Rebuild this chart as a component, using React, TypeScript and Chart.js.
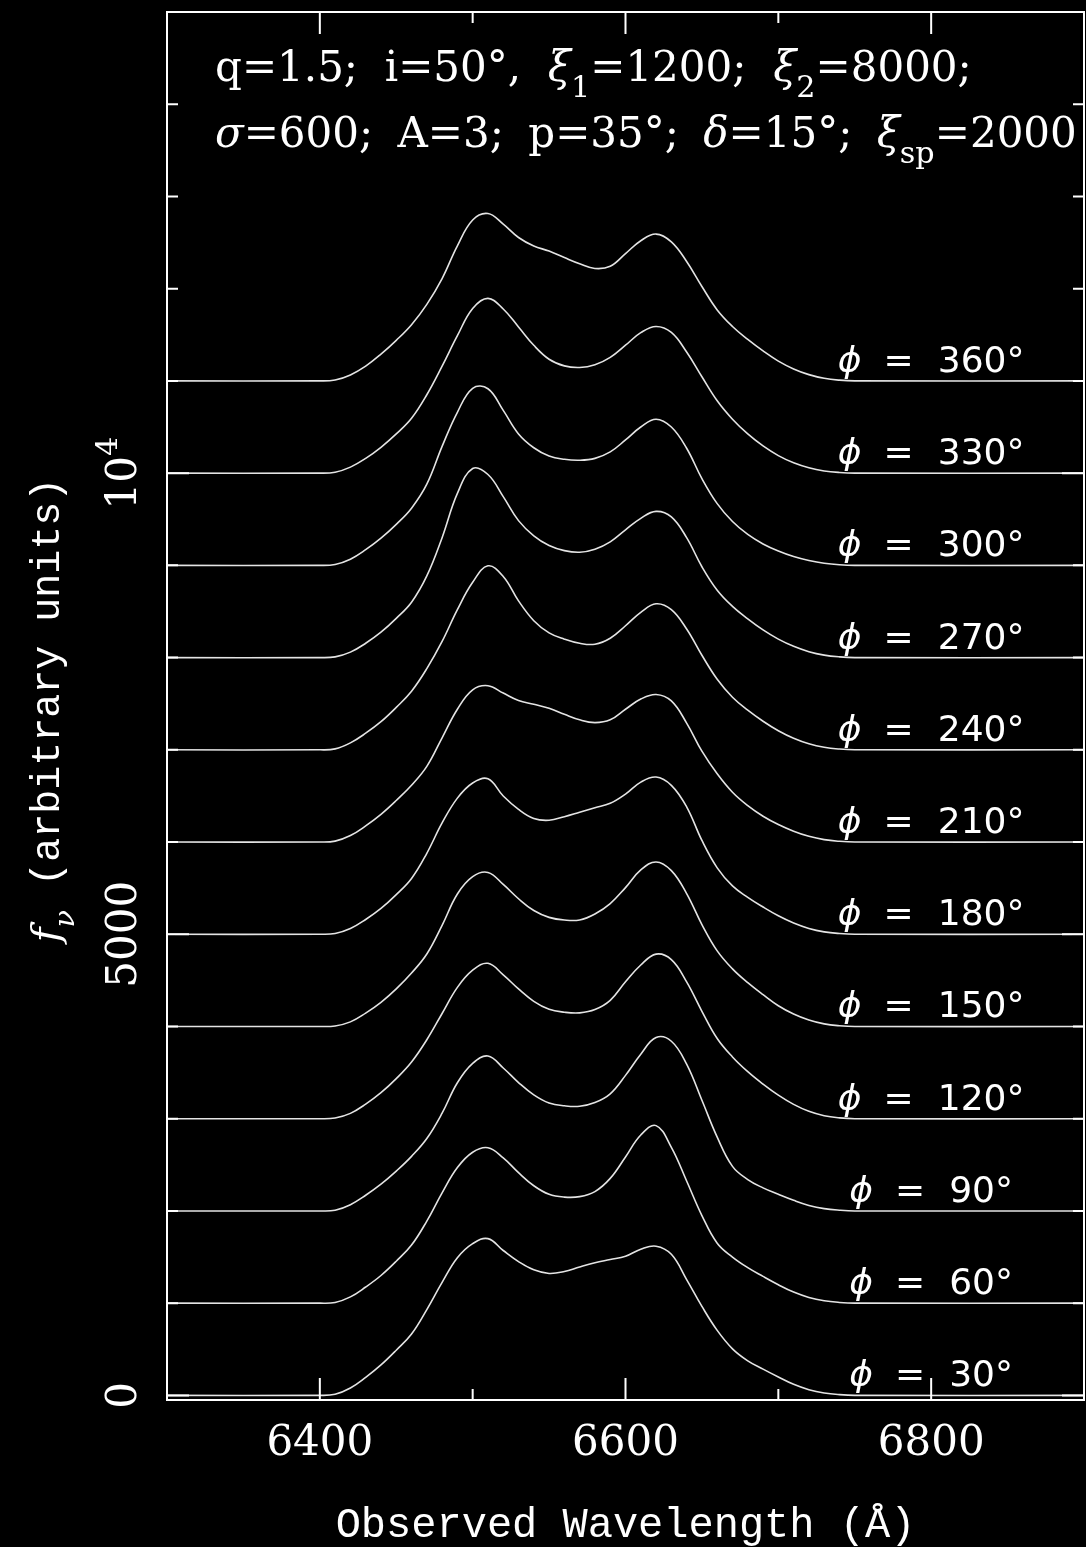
import { useEffect, useRef } from "react";
import { Chart, registerables } from "chart.js";

Chart.register(...registerables);

// Observed wavelength grid (Å) shared by every profile
const wavelength = [
  6300, 6400, 6410, 6420, 6430, 6440, 6450, 6460, 6470, 6480, 6490, 6500, 6510,
  6520, 6530, 6540, 6550, 6560, 6570, 6580, 6590, 6600, 6610, 6620, 6630, 6640,
  6650, 6660, 6670, 6680, 6690, 6700, 6710, 6720, 6730, 6740, 6750, 6900,
];

// Orbital phase of each profile (degrees) and its vertical offset in the stack
const phases = [30, 60, 90, 120, 150, 180, 210, 240, 270, 300, 330, 360];
const offsets = [0, 1000, 2000, 3000, 4000, 5000, 6000, 7000, 8000, 9000, 10000, 11000];

// Emission-line profiles above their own continuum (f_nu, arbitrary units)
const profile30 = [0, 0, 12, 80, 195, 330, 490, 665, 930, 1225, 1492, 1645, 1700, 1571, 1451, 1361, 1322, 1343, 1393, 1438, 1473, 1509, 1585, 1618, 1530, 1256, 965, 705, 505, 375, 285, 200, 120, 62, 26, 8, 0, 0];
const profile60 = [0, 0, 8, 68, 175, 300, 455, 630, 890, 1196, 1470, 1636, 1685, 1575, 1415, 1273, 1180, 1150, 1155, 1210, 1353, 1585, 1823, 1925, 1690, 1325, 950, 650, 500, 385, 290, 200, 120, 62, 26, 8, 0, 0];
const profile90 = [0, 0, 8, 68, 170, 290, 432, 592, 785, 1060, 1390, 1600, 1680, 1550, 1392, 1258, 1170, 1140, 1135, 1175, 1270, 1470, 1700, 1880, 1840, 1592, 1200, 800, 483, 340, 250, 180, 115, 60, 25, 8, 0, 0];
const profile120 = [0, 0, 8, 58, 158, 282, 435, 615, 856, 1141, 1424, 1610, 1685, 1560, 1407, 1273, 1186, 1155, 1148, 1183, 1283, 1485, 1667, 1785, 1725, 1484, 1165, 870, 670, 510, 375, 255, 155, 80, 32, 9, 0, 0];
const profile150 = [0, 0, 6, 50, 145, 262, 408, 580, 786, 1097, 1437, 1625, 1670, 1540, 1385, 1257, 1183, 1154, 1155, 1220, 1333, 1506, 1698, 1784, 1690, 1441, 1105, 820, 625, 475, 345, 225, 135, 70, 28, 8, 0, 0];
const profile180 = [0, 0, 8, 62, 160, 280, 430, 605, 878, 1207, 1476, 1640, 1685, 1499, 1354, 1255, 1236, 1275, 1323, 1372, 1420, 1520, 1650, 1705, 1615, 1382, 1017, 720, 524, 400, 295, 200, 122, 63, 26, 8, 0, 0];
const profile210 = [0, 0, 10, 70, 175, 300, 450, 615, 820, 1130, 1440, 1650, 1695, 1615, 1535, 1494, 1450, 1385, 1325, 1295, 1325, 1440, 1550, 1600, 1530, 1290, 985, 740, 540, 395, 280, 190, 118, 62, 26, 8, 0, 0];
const profile240 = [0, 0, 10, 75, 180, 305, 460, 635, 880, 1175, 1520, 1816, 1995, 1880, 1615, 1400, 1268, 1200, 1155, 1145, 1210, 1345, 1490, 1583, 1520, 1310, 1025, 765, 570, 430, 310, 207, 125, 65, 27, 8, 0, 0];
const profile270 = [0, 0, 8, 59, 155, 275, 425, 600, 885, 1300, 1780, 2050, 1985, 1745, 1485, 1320, 1215, 1160, 1142, 1175, 1255, 1385, 1510, 1585, 1525, 1300, 985, 730, 555, 420, 300, 200, 122, 64, 27, 8, 0, 0];
const profile300 = [0, 0, 10, 67, 170, 295, 445, 620, 880, 1290, 1660, 1920, 1915, 1680, 1425, 1275, 1185, 1150, 1140, 1160, 1230, 1360, 1500, 1585, 1500, 1270, 940, 669, 475, 335, 232, 155, 95, 52, 22, 6, 0, 0];
const profile330 = [0, 0, 10, 65, 160, 280, 425, 595, 850, 1160, 1490, 1785, 1895, 1780, 1585, 1386, 1235, 1163, 1145, 1175, 1255, 1387, 1523, 1590, 1525, 1313, 1045, 785, 585, 425, 295, 190, 112, 58, 24, 7, 0, 0];
const profile360 = [0, 0, 10, 65, 160, 290, 440, 610, 830, 1110, 1465, 1745, 1815, 1700, 1555, 1463, 1408, 1337, 1270, 1219, 1243, 1380, 1520, 1592, 1508, 1295, 1024, 770, 590, 450, 325, 215, 130, 68, 28, 8, 0, 0];

const profiles = [
  profile30, profile60, profile90, profile120, profile150, profile180,
  profile210, profile240, profile270, profile300, profile330, profile360,
];

// Axis limits and ticks
const X_MIN = 6300;
const X_MAX = 6900;
const Y_MIN = -50;
const Y_MAX = 15000;
const xTicks = [6300, 6400, 6500, 6600, 6700, 6800, 6900];
const xMajorTicks = [6400, 6600, 6800];
const xTickLabels = ["6400", "6600", "6800"];
const yTicks = [0, 1000, 2000, 3000, 4000, 5000, 6000, 7000, 8000, 9000, 10000, 11000, 12000, 13000, 14000, 15000];
const yMajorTicks = [0, 5000, 10000];
const yTickLabels = ["0", "5000", "10^4"];
const LABEL_WAVELENGTH = 6800;

const SERIF = '"DejaVu Serif", "Liberation Serif", serif';
const SANS = '"DejaVu Sans", "Liberation Sans", sans-serif';
const MONO = '"Liberation Mono", "DejaVu Sans Mono", monospace';

type Run = { t: string; it?: boolean; sub?: boolean; sup?: boolean; family?: string; dx?: number };

function runFont(r: Run, size: number, family: string) {
  const fs = r.sub || r.sup ? size * 0.72 : size;
  return `${r.it ? "italic " : ""}${fs}px ${r.family ?? family}`;
}

function runsWidth(ctx: CanvasRenderingContext2D, runs: Run[], size: number, family: string) {
  let w = 0;
  for (const r of runs) {
    ctx.font = runFont(r, size, family);
    w += (r.dx ?? 0) + ctx.measureText(r.t).width;
  }
  return w;
}

function drawRuns(
  ctx: CanvasRenderingContext2D,
  runs: Run[],
  x: number,
  y: number,
  size: number,
  family: string,
  align: "left" | "center" = "left"
) {
  let cx = align === "center" ? x - runsWidth(ctx, runs, size, family) / 2 : x;
  ctx.textAlign = "left";
  ctx.textBaseline = "alphabetic";
  for (const r of runs) {
    ctx.font = runFont(r, size, family);
    cx += r.dx ?? 0;
    const dy = r.sub ? size * 0.37 : r.sup ? -size * 0.45 : 0;
    ctx.fillText(r.t, cx, y + dy);
    cx += ctx.measureText(r.t).width;
  }
}

const titleLine1: Run[] = [
  { t: "q=1.5;  i=50°,  " },
  { t: "ξ", it: true },
  { t: "1", sub: true },
  { t: "=1200;  " },
  { t: "ξ", it: true },
  { t: "2", sub: true },
  { t: "=8000;" },
];
const titleLine2: Run[] = [
  { t: "σ", it: true },
  { t: "=600;" },
  { t: " A=3;", dx: 11 },
  { t: " p=35°;", dx: 11 },
  { t: " ", dx: 11 },
  { t: "δ", it: true },
  { t: "=15°;" },
  { t: " ", dx: 11 },
  { t: "ξ", it: true },
  { t: "sp", sub: true },
  { t: "=2000" },
];

const framePlugin = {
  id: "stackFrame",
  beforeDraw(chart: Chart) {
    const { ctx, width, height } = chart;
    ctx.save();
    ctx.fillStyle = "#000";
    ctx.fillRect(0, 0, width, height);
    ctx.restore();
  },
  afterDraw(chart: Chart) {
    const { ctx, chartArea: a } = chart;
    const xs = chart.scales.x;
    const ys = chart.scales.y;
    ctx.save();
    ctx.strokeStyle = "#fff";
    ctx.fillStyle = "#fff";
    ctx.lineWidth = 2;
    ctx.strokeRect(a.left, a.top, a.right - a.left, a.bottom - a.top);

    const MAJOR = 22;
    const MINOR = 11;
    ctx.beginPath();
    for (const v of xTicks) {
      const px = xs.getPixelForValue(v);
      const len = xMajorTicks.includes(v) ? MAJOR : MINOR;
      ctx.moveTo(px, a.bottom);
      ctx.lineTo(px, a.bottom - len);
      ctx.moveTo(px, a.top);
      ctx.lineTo(px, a.top + len);
    }
    for (const v of yTicks) {
      const py = ys.getPixelForValue(v);
      const len = yMajorTicks.includes(v) ? MAJOR : MINOR;
      ctx.moveTo(a.left, py);
      ctx.lineTo(a.left + len, py);
      ctx.moveTo(a.right, py);
      ctx.lineTo(a.right - len, py);
    }
    ctx.stroke();

    // x tick labels
    xMajorTicks.forEach((v, i) => {
      drawRuns(ctx, [{ t: xTickLabels[i] }], xs.getPixelForValue(v), a.bottom + 55, 42, SERIF, "center");
    });

    // y tick labels, rotated
    yMajorTicks.forEach((v, i) => {
      const py = ys.getPixelForValue(v);
      const lab = yTickLabels[i];
      const runs: Run[] = lab.includes("^")
        ? [{ t: lab.split("^")[0] }, { t: lab.split("^")[1], sup: true }]
        : [{ t: lab }];
      ctx.save();
      ctx.translate(a.left - 31, py);
      ctx.rotate(-Math.PI / 2);
      drawRuns(ctx, runs, 0, 0, 42, SERIF, "center");
      ctx.restore();
    });

    // axis titles
    drawRuns(ctx, [{ t: "Observed Wavelength (Å)" }], (a.left + a.right) / 2, 1537, 42, MONO, "center");
    ctx.save();
    ctx.translate(59, 710);
    ctx.rotate(-Math.PI / 2);
    drawRuns(
      ctx,
      [
        { t: "f", it: true, family: SERIF },
        { t: "ν", it: true, sub: true, family: SERIF },
        { t: " (arbitrary units)" },
      ],
      0,
      0,
      40,
      MONO,
      "center"
    );
    ctx.restore();

    // parameter block
    drawRuns(ctx, titleLine1, 215, 81, 42, SERIF);
    drawRuns(ctx, titleLine2, 215, 147, 42, SERIF);

    // phase labels sitting on each profile's continuum
    const lx = xs.getPixelForValue(LABEL_WAVELENGTH);
    phases.forEach((p, i) => {
      const py = ys.getPixelForValue(offsets[i]) - 9;
      drawRuns(
        ctx,
        [
          { t: "ϕ", it: true },
          { t: "=", dx: 22 },
          { t: `${p}°`, dx: 24 },
        ],
        lx,
        py,
        36,
        SANS,
        "center"
      );
    });
    ctx.restore();
  },
};

export default function App() {
  const ref = useRef<HTMLCanvasElement>(null);

  useEffect(() => {
    const canvas = ref.current;
    if (!canvas) return;
    document.body.style.margin = "0";
    document.body.style.background = "#000";
    const datasets = profiles.map((prof, i) => ({
      label: `phi = ${phases[i]}`,
      data: wavelength.map((w, j) => ({ x: w, y: offsets[i] + prof[j] })),
      borderColor: "#e4e4e4",
      borderWidth: 1.6,
      pointRadius: 0,
      fill: false,
      tension: 0.4,
    }));
    const chart = new Chart(canvas, {
      type: "line",
      data: { datasets },
      options: {
        responsive: false,
        animation: false,
        layout: { padding: { left: 167, top: 12, right: 2, bottom: 147 } },
        scales: {
          x: { type: "linear", min: X_MIN, max: X_MAX, display: false },
          y: { type: "linear", min: Y_MIN, max: Y_MAX, display: false },
        },
        plugins: { legend: { display: false }, tooltip: { enabled: false } },
      },
      plugins: [framePlugin],
    });
    return () => chart.destroy();
  }, []);

  return (
    <div style={{ position: "absolute", left: 0, top: 0, width: 1086, height: 1547, background: "#000" }}>
      <canvas ref={ref} width={1086} height={1547} style={{ display: "block", width: 1086, height: 1547 }} />
    </div>
  );
}
